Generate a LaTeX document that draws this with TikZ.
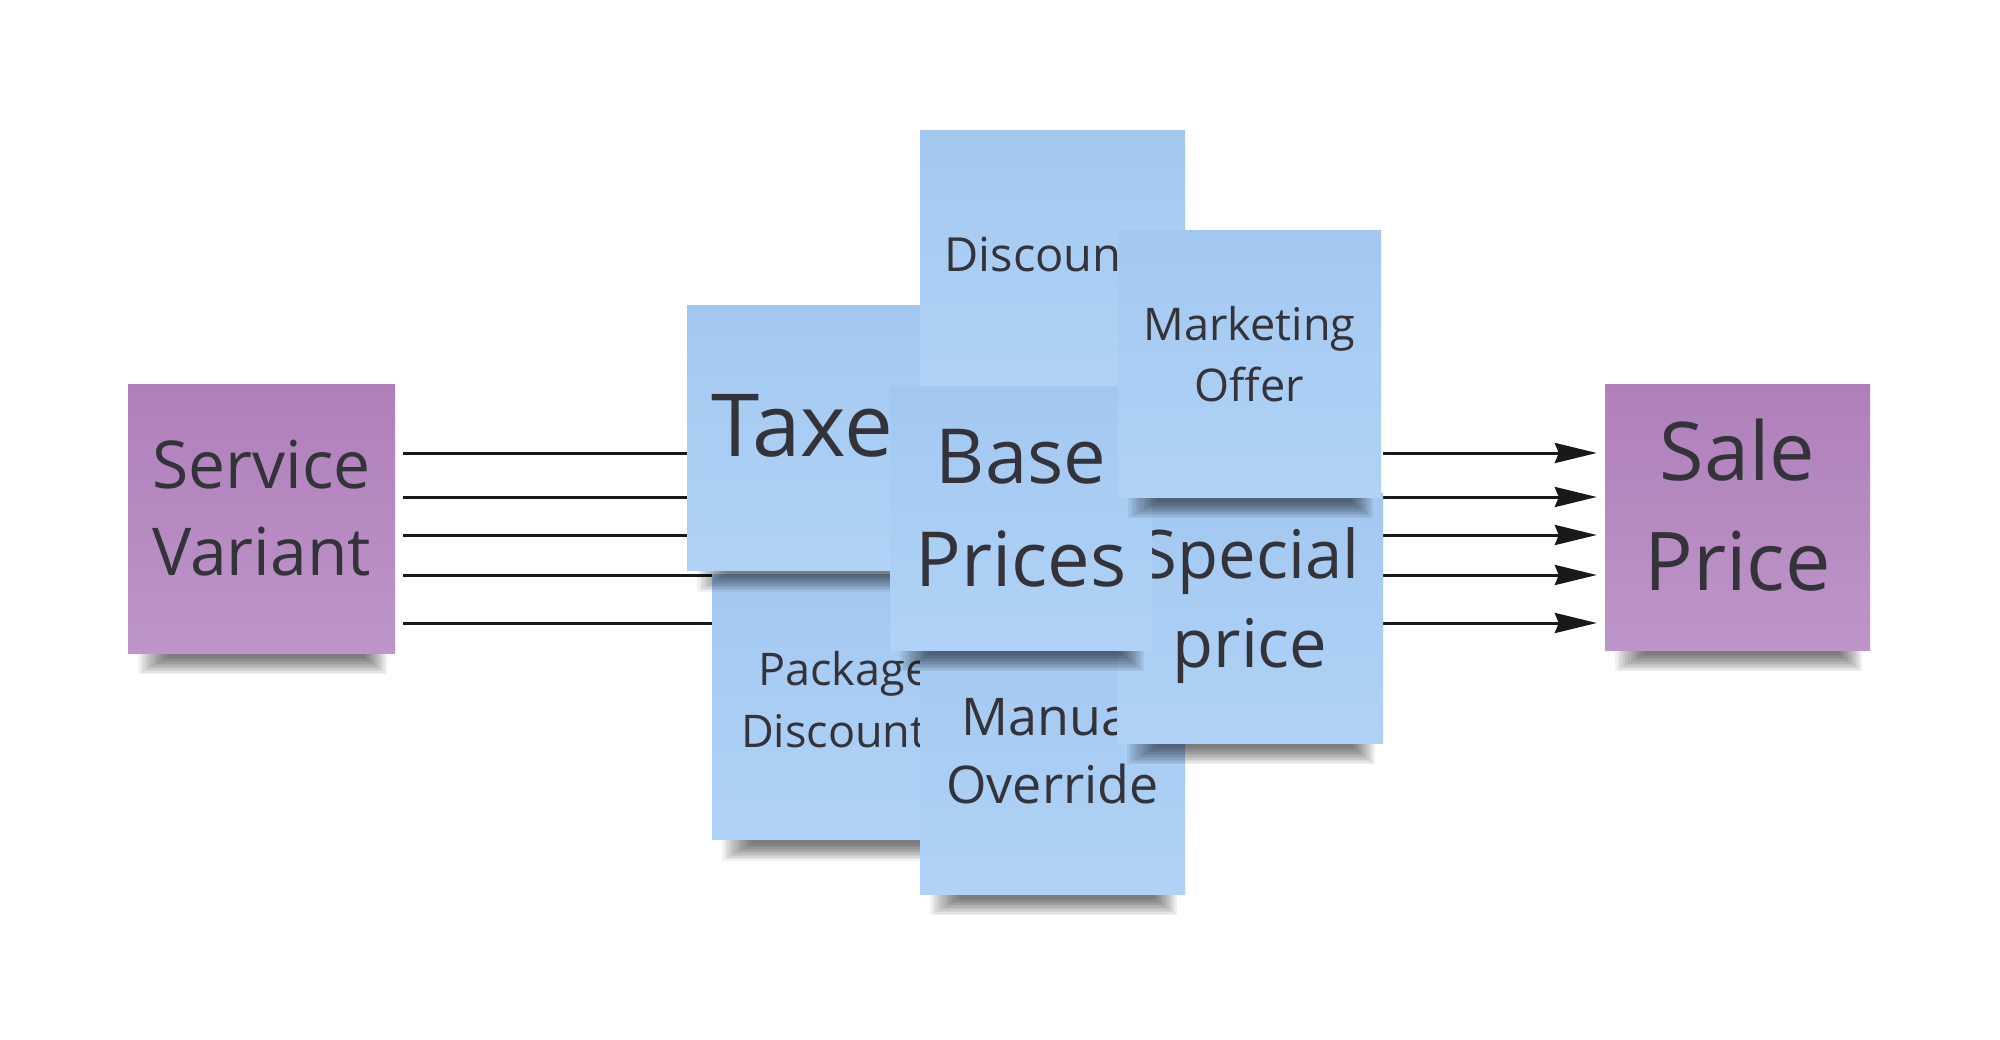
\documentclass[tikz,border=0pt]{standalone}
\usepackage{fontspec}
\setmainfont{Open Sans}
\usetikzlibrary{arrows.meta}
\definecolor{txtc}{HTML}{333339}
\definecolor{pTop}{HTML}{B07FBB}
\definecolor{pBot}{HTML}{BD95C8}
\definecolor{bTop}{HTML}{A3C8F0}
\definecolor{bBot}{HTML}{B0D2F6}
\newcommand{\cardtxt}[4]{\raisebox{#1pt}[0pt][0pt]{\fontsize{#2pt}{#3pt}\selectfont\begin{tabular}[b]{@{}c@{}}#4\end{tabular}}}
% soft shadow under a card: centre x, centre y, width, height
\newcommand{\nshadow}[4]{%
  \foreach \k in {0,...,11}{%
    \fill[black,opacity=0.055] ({#1-#3/2+10+2.6*\k},{#2+#4/2-4}) rectangle ({#1+#3/2-8-2*\k},{#2+#4/2+21-1.5*\k});}}
\pgfdeclarelayer{back}
\pgfdeclarelayer{lines}
\pgfsetlayers{back,lines,main}
\begin{document}
\begin{tikzpicture}[x=1pt,y=-1pt,
  note/.style={minimum width=265pt,minimum height=265pt,inner sep=0pt,text=txtc},
  purplenote/.style={note,top color=pTop,bottom color=pBot},
  bluenote/.style={note,top color=bTop,bottom color=bBot},
  ln/.style={line width=3pt,draw=black!90},
  arr/.style={ln,-{Stealth[length=42pt,width=20pt,inset=4pt]},shorten >=8pt}]
\path[use as bounding box] (0,0) rectangle (2000,1040);
\begin{pgfonlayer}{back}
\fill[white] (0,0) rectangle (2000,1040);
\fill[white,opacity=0.5] (0,0) rectangle (2000,1040);
\end{pgfonlayer}
% cards, back to front, each with its shadow
\nshadow{261.5}{519}{267}{268}
\node[purplenote,minimum width=267pt,minimum height=268pt] (sv) at (261.5,519) {\cardtxt{-56}{66}{87}{Service\\Variant}};
\nshadow{1737.5}{517.5}{265}{265}
\node[purplenote] (sp) at (1737.5,517.5) {\cardtxt{-72.5}{81}{110}{Sale\\Price}};
\nshadow{844.5}{707}{265}{265}
\node[bluenote] (pkg) at (844.5,707) {\cardtxt{-40}{45}{62}{Package\\Discount\phantom{s}}};
\nshadow{819.5}{438}{265}{265}
\node[bluenote] (tax) at (819.5,438) {\cardtxt{-18}{87}{100}{\hspace*{7pt}Taxe\phantom{s}}};
\nshadow{1052.5}{263.5}{265}{265}
\node[bluenote] (dis) at (1052.5,263.5) {\cardtxt{-8.5}{47}{60}{Discoun\phantom{ts}}};
\nshadow{1052.5}{761.5}{265}{265}
\node[bluenote] (man) at (1052.5,761.5) {\cardtxt{-41.5}{52}{68}{Manua\phantom{l}\\Override}};
\nshadow{1250}{618}{266}{250}
\node[bluenote,minimum width=266pt,minimum height=250pt] (spc) at (1250,618) {\cardtxt{-49}{67}{89}{Special\\price}};
\nshadow{1021}{518.5}{262}{263}
\node[bluenote,minimum width=262pt,minimum height=263pt] (base) at (1021,518.5) {\cardtxt{-67.5}{76}{103}{Base\\Prices}};
\nshadow{1249.5}{364}{263}{266}
\node[bluenote,minimum width=263pt,minimum height=266pt] (mkt) at (1249.5,364) {\cardtxt{-38}{45}{61}{Marketing\\Offer}};
% connector heights
\coordinate (r1) at (0,453);
\coordinate (r2) at (0,497);
\coordinate (r3) at (0,535);
\coordinate (r4) at (0,575);
\coordinate (r5) at (0,623);
\begin{pgfonlayer}{lines}
\draw[ln,shorten <=8pt] (sv.east |- r1) -- (tax.west |- r1);
\draw[ln,shorten <=8pt] (sv.east |- r2) -- (tax.west |- r2);
\draw[ln,shorten <=8pt] (sv.east |- r3) -- (tax.west |- r3);
\draw[ln,shorten <=8pt] (sv.east |- r4) -- (pkg.west |- r4);
\draw[ln,shorten <=8pt] (sv.east |- r5) -- (pkg.west |- r5);
\draw[arr] (spc.east |- r1) -- (sp.west |- r1);
\draw[arr] (spc.east |- r2) -- (sp.west |- r2);
\draw[arr] (spc.east |- r3) -- (sp.west |- r3);
\draw[arr] (spc.east |- r4) -- (sp.west |- r4);
\draw[arr] (spc.east |- r5) -- (sp.west |- r5);
\end{pgfonlayer}
\end{tikzpicture}
\end{document}
